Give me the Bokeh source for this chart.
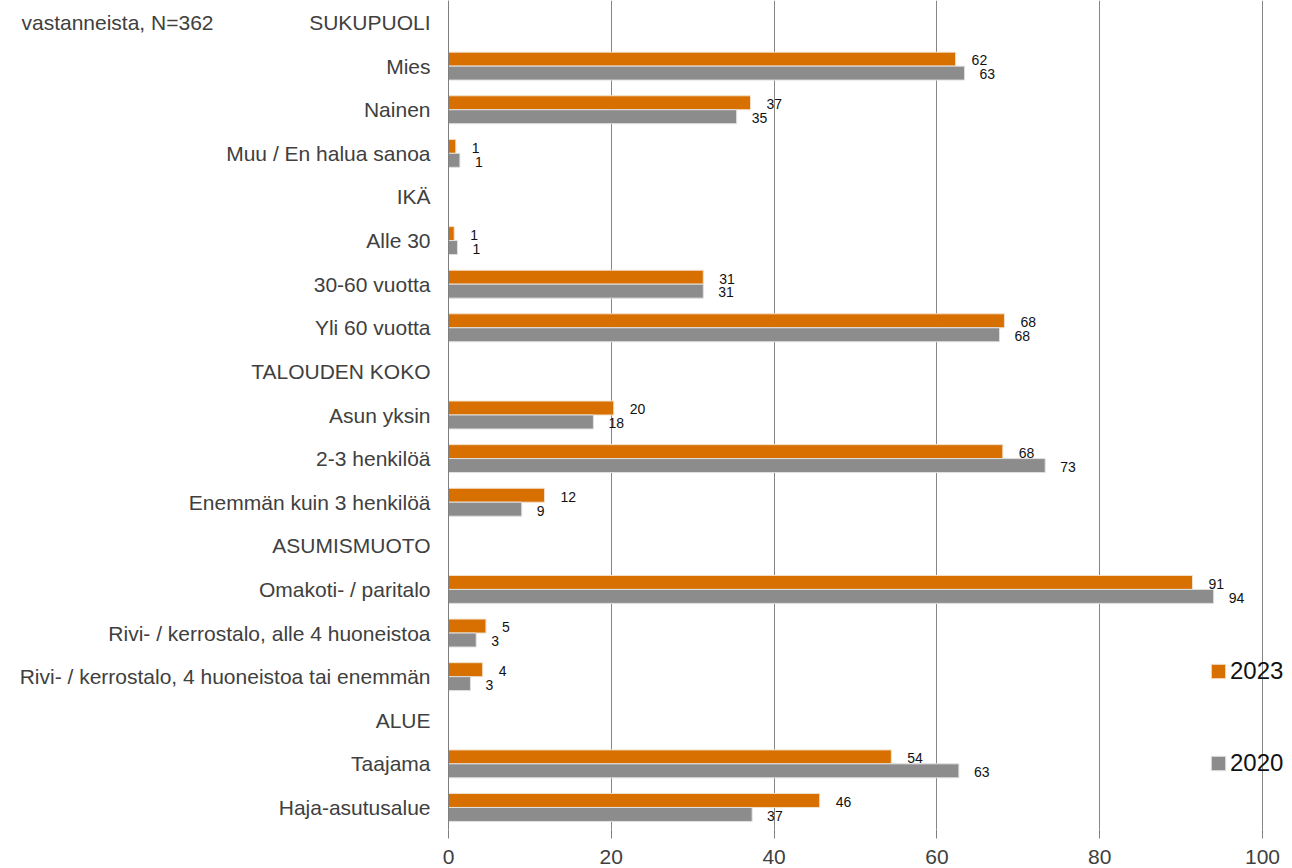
from bokeh.plotting import figure
from bokeh.models import (ColumnDataSource, Range1d, FixedTicker, Legend, LegendItem, Label, Span)
from bokeh.core.properties import value
from bokeh.transform import dodge
from bokeh.embed import file_html
from bokeh.resources import INLINE

# ---- data ----
categories = ["SUKUPUOLI", "Mies", "Nainen", "Muu / En halua sanoa",
              "IKÄ", "Alle 30", "30-60 vuotta", "Yli 60 vuotta",
              "TALOUDEN KOKO", "Asun yksin", "2-3 henkilöä", "Enemmän kuin 3 henkilöä",
              "ASUMISMUOTO", "Omakoti- / paritalo", "Rivi- / kerrostalo, alle 4 huoneistoa",
              "Rivi- / kerrostalo, 4 huoneistoa tai enemmän",
              "ALUE", "Taajama", "Haja-asutusalue"]
values_2023 = [None, 62.3, 37.1, 0.9, None, 0.7, 31.3, 68.3, None, 20.3, 68.1, 11.8,
               None, 91.4, 4.6, 4.2, None, 54.4, 45.6]
values_2020 = [None, 63.4, 35.4, 1.4, None, 1.1, 31.3, 67.7, None, 17.8, 73.3, 9.0,
               None, 94.0, 3.4, 2.7, None, 62.7, 37.3]
series_names = ["2023", "2020"]
series_colors = ["#D77000", "#8C8C8C"]
x_ticks = [0, 20, 40, 60, 80, 100]
note_text = "vastanneista, N=362"

n = len(categories)
ypos = [n - 1 - i for i in range(n)]
rows = [i for i in range(n) if values_2023[i] is not None]
src = ColumnDataSource(dict(
    y=[ypos[i] for i in rows],
    v23=[values_2023[i] for i in rows],
    v20=[values_2020[i] for i in rows],
    l23=[f"{values_2023[i]:.0f}" for i in rows],
    l20=[f"{values_2020[i]:.0f}" for i in rows],
))
cat_src = ColumnDataSource(dict(y=ypos, x=[0] * n, name=categories))

FONT = "Liberation Sans"
W, H = 1292, 868
px_per_unit = 8.14
x0_px = 448

p = figure(width=W, height=H, output_backend="svg", toolbar_location=None,
           x_range=Range1d(-x0_px / px_per_unit, (W - x0_px) / px_per_unit),
           y_range=Range1d(-0.505, 18.505), y_axis_location=None,
           min_border_left=0, min_border_right=0, min_border_top=0, min_border_bottom=39)
p.outline_line_color = None
p.background_fill_color = "white"
p.border_fill_color = "white"

off = 0.16
bh = 0.32
r23 = p.hbar(y=dodge("y", off, range=p.y_range), right="v23", left=0, height=bh, source=src,
             fill_color=series_colors[0], line_color="#f2e0cc", line_width=1)
r20 = p.hbar(y=dodge("y", -off, range=p.y_range), right="v20", left=0, height=bh, source=src,
             fill_color=series_colors[1], line_color="#e0e0e0", line_width=1)

p.text(x="v23", y=dodge("y", off - 0.03, range=p.y_range), text="l23", source=src,
       x_offset=16, text_baseline="middle", text_align="left",
       text_font=value(FONT), text_font_size="14px", text_color="#111111")
p.text(x="v20", y=dodge("y", -off - 0.03, range=p.y_range), text="l20", source=src,
       x_offset=15, text_baseline="middle", text_align="left",
       text_font=value(FONT), text_font_size="14px", text_color="#111111")

# category labels (acting as the y axis)
p.text(x="x", y="y", text="name", source=cat_src, x_offset=-18,
       text_baseline="middle", text_align="right",
       text_font=value(FONT), text_font_size="21px", text_color="#404040")
p.add_layout(Span(location=0, dimension="height", line_color="#7f7f7f", line_width=1))

# x axis
p.xaxis.ticker = FixedTicker(ticks=x_ticks)
p.xaxis.axis_line_color = None
p.xaxis.major_tick_in = 0
p.xaxis.major_tick_out = 9
p.xaxis.major_tick_line_color = "#7f7f7f"
p.xaxis.minor_tick_line_color = None
p.xaxis.major_label_standoff = 11
p.xaxis.major_label_text_font = FONT
p.xaxis.major_label_text_font_size = "21px"
p.xaxis.major_label_text_color = "#404040"
p.xgrid.grid_line_color = "#868686"
p.xgrid.grid_line_width = 1
p.ygrid.grid_line_color = None

# note at top left
p.add_layout(Label(x=-(x0_px - 213) / px_per_unit, y=ypos[0], text=note_text, text_align="right",
                   text_baseline="middle", text_font=FONT, text_font_size="21px",
                   text_color="#404040"))

legend = Legend(items=[LegendItem(label=series_names[0], renderers=[r23]),
                       LegendItem(label=series_names[1], renderers=[r20])],
                location=(1209, 51), orientation="vertical",
                glyph_width=18, glyph_height=18, label_height=30, spacing=62,
                label_standoff=3, padding=0, margin=0,
                label_text_font=FONT, label_text_font_size="24px", label_text_color="#111111",
                border_line_color=None, background_fill_alpha=0)
p.add_layout(legend, "center")

open("out.html", "w").write(file_html(p, INLINE))
